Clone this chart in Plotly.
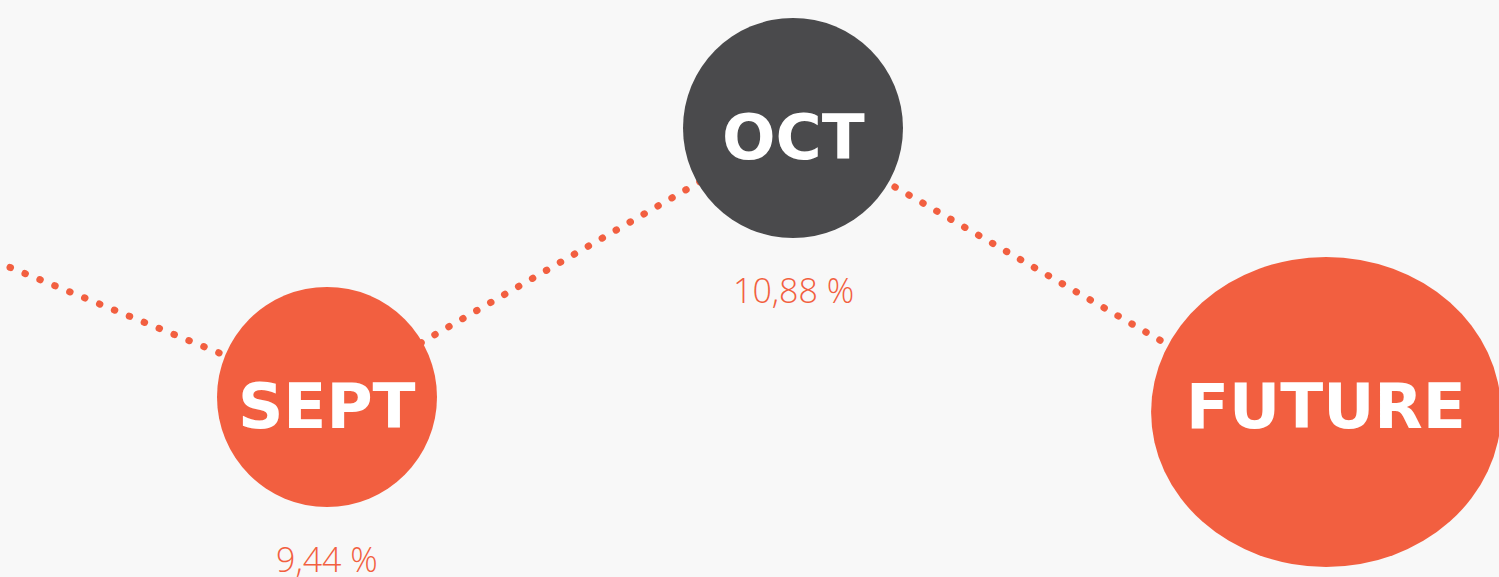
import plotly.graph_objects as go

# ---- data ----
months = ["AUG", "SEPT", "OCT", "FUTURE"]
month_pos = [0, 1, 2, 3.144]          # timeline position of each month
rates = [10.46, 9.44, 10.88, 9.23]     # %
rate_labels = ["", "9,44 %", "10,88 %", ""]

ORANGE = "#F25F40"
DARK = "#4A4A4C"
BG = "#F8F8F8"

fig = go.Figure()

# dotted connector line
fig.add_trace(go.Scatter(
    x=month_pos, y=rates, mode="lines",
    line=dict(color=ORANGE, width=7, dash="0.5px,15.6px"),
    hoverinfo="skip", showlegend=False,
))

# round bubbles for SEPT / OCT
fig.add_trace(go.Scatter(
    x=month_pos[1:3], y=rates[1:3], mode="markers",
    marker=dict(size=220, color=[ORANGE, DARK], line=dict(width=0), opacity=1),
    hoverinfo="skip", showlegend=False,
))

# oval bubble for FUTURE
fx = month_pos[3]
fy = rates[3] + 0.13
fig.add_shape(type="circle", xref="x", yref="y",
              x0=fx - 175 / 466, x1=fx + 175 / 466,
              y0=fy - 155 / 186.8, y1=fy + 155 / 186.8,
              fillcolor=ORANGE, line=dict(width=0), layer="above")

# bubble labels
label_font = dict(family="DejaVu Sans", size=63, color="white", weight=700)
for i in (1, 2):
    fig.add_annotation(x=month_pos[i], y=rates[i], text=months[i], showarrow=False,
                       font=label_font, yshift=-9, xanchor="center", yanchor="middle")
fig.add_annotation(x=fx, y=fy, text=months[3], showarrow=False,
                   font=label_font, yshift=5, xanchor="center", yanchor="middle")

# value labels
for i in (1, 2):
    fig.add_annotation(x=month_pos[i], y=rates[i], text=rate_labels[i], showarrow=False,
                       font=dict(family="Open Sans", size=34, color=ORANGE, weight=300),
                       yshift=-162, xanchor="center", yanchor="middle")

fig.update_layout(
    width=1499, height=577,
    margin=dict(l=0, r=0, t=0, b=0),
    paper_bgcolor=BG, plot_bgcolor=BG,
    xaxis=dict(range=[1 - 327 / 466, 2 + 706 / 466], visible=False, fixedrange=True),
    yaxis=dict(range=[9.44 - 180 / 186.8, 10.88 + 128 / 186.8], visible=False, fixedrange=True),
)

post = """
document.body.style.margin = '0';
document.body.style.padding = '0';
document.body.style.background = '#F8F8F8';
document.documentElement.style.background = '#F8F8F8';
var s = document.createElement('style');
s.innerHTML = '.js-line{stroke-linecap:round !important;} body{margin:0 !important;}';
document.head.appendChild(s);
"""
fig.write_html("out.html", post_script=post, config={"displayModeBar": False})
